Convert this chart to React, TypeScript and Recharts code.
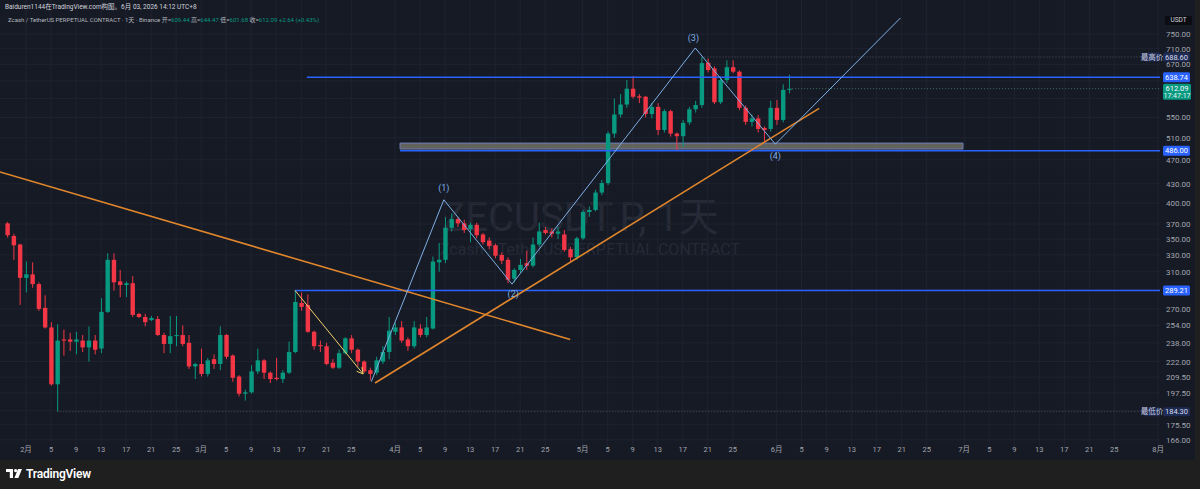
import React from 'react';
import {
  ComposedChart,
  Bar,
  XAxis,
  YAxis,
  CartesianGrid,
  ReferenceLine,
  ReferenceArea,
  ReferenceDot,
} from 'recharts';

// day index counted from Feb 1 (first candle is Jan 29)
const FIRST_DAY = -3;

const opens = [
  371, 354, 343, 303,
  307, 296, 271, 252, 204, 241, 241, 239, 240, 234,
  240, 233, 267, 324, 299, 295, 297, 265, 262, 259,
  260, 245, 237, 244, 245, 238, 218, 220, 212, 224,
  220, 245, 227, 210, 197, 198, 214, 223, 213, 209,
  208, 213, 230, 276, 274, 248, 236, 235, 221, 217,
  229, 242, 232, 222, 215, 213, 222, 230, 248, 252,
  241, 235, 251, 245, 251, 321, 324, 365, 377, 371,
  363, 369, 356, 348, 342, 330, 324, 302, 312, 320,
  317, 343, 362, 360, 357, 356, 337, 327, 351, 387,
  390, 416, 431, 518, 556, 577, 612, 595, 594, 557,
  572, 525, 563, 518, 513, 540, 567, 576, 674, 660,
  582, 632, 663, 652, 570, 541, 548, 529, 527, 570,
  545, 609.44,
];

const highs = [
  373, 357, 344, 322,
  321, 298, 284, 257, 255, 250, 247, 248, 245, 253,
  245, 281, 332, 332, 312, 299, 305, 266, 265, 263,
  263, 247, 263, 263, 254, 245, 221, 233, 225, 228,
  253, 246, 228, 211, 200, 219, 233, 224, 214, 225,
  215, 239, 289.21, 287, 285, 249, 240, 238, 224, 232,
  243, 245, 233, 223, 217, 226, 235, 262, 256, 258,
  243, 258, 255, 262, 328, 345, 380, 385, 380, 376,
  372, 372, 358, 352, 344, 333, 327, 314, 325, 335,
  352, 372, 366, 364, 366, 362, 340, 353, 390, 395,
  420, 436, 522, 590, 600, 632, 641, 600, 596, 580,
  580, 567, 566, 520, 545, 572, 585, 688.6, 685, 665,
  640, 680, 680, 655, 575, 556, 555, 532, 585, 587,
  622, 644.47,
];

const lows = [
  352, 324, 274, 287,
  292, 268, 251, 203, 184.3, 227, 231, 228, 230, 222,
  228, 229, 266, 289, 282, 282, 262, 261, 253, 258,
  244, 229, 229, 235, 235, 216, 208, 210, 210, 216,
  215, 224, 206, 195, 192, 197, 212, 208, 205, 207,
  205, 212, 229, 268, 247, 232, 230, 219, 216, 216,
  228, 229, 218, 213, 207, 211, 220, 224, 245, 238,
  231, 233, 243, 243, 250, 310, 320, 360, 366, 358,
  346, 351, 343, 337, 326, 319, 297, 298, 309, 312,
  315, 340, 356, 352, 350, 334, 322, 324, 349, 380,
  388, 412, 428, 510, 550, 570, 590, 580, 550, 548,
  515, 520, 512, 486, 493, 535, 560, 570, 650, 578,
  578, 625, 648, 565, 535, 532, 520, 503, 522, 535,
  540, 601.68,
];

const closes = [
  355, 342, 303, 307,
  296, 270, 252, 204, 240, 240, 239, 241, 234, 240,
  232, 267, 324, 298, 295, 297, 264, 262, 257, 261,
  245, 237, 244, 245, 237, 218, 220, 212, 223, 220,
  245, 226, 209, 197, 198, 214, 223, 213, 208, 208,
  213, 230, 277, 272, 248, 235, 235, 220, 217, 229,
  242, 232, 222, 214, 212, 223, 230, 249, 252, 240,
  235, 252, 245, 252, 322, 324, 365, 377, 371, 362,
  369, 355, 346, 341, 329, 323, 301, 312, 318, 317,
  343, 360, 358, 357, 360, 336, 327, 351, 387, 390,
  416, 431, 518, 556, 577, 612, 594, 592, 557, 572,
  525, 563, 518, 513, 539, 567, 576, 673, 656, 582,
  632, 663, 652, 570, 541, 548, 527, 525, 570, 545,
  609.45, 612.09,
];

const xTickDays = [
  0, 4, 8, 12, 16, 20, 24,
  28, 32, 36, 40, 44, 48, 52,
  59, 63, 67, 71, 75, 79, 83,
  89, 93, 97, 101, 105, 109, 113,
  120, 124, 128, 132, 136, 140, 144,
  150, 154, 158, 162, 166, 170, 174,
  181,
];
const xTickLabels = [
  '2月', '5', '9', '13', '17', '21', '25',
  '3月', '5', '9', '13', '17', '21', '25',
  '4月', '5', '9', '13', '17', '21', '25',
  '5月', '5', '9', '13', '17', '21', '25',
  '6月', '5', '9', '13', '17', '21', '25',
  '7月', '5', '9', '13', '17', '21', '25',
  '8月',
];

const priceTicks = [166, 175.5, 197.5, 209.5, 222, 238, 254, 270, 310, 330, 350, 370, 400, 430, 470, 510, 550, 670, 710, 750];
const gridPrices = [166, 175.5, 185, 197.5, 209.5, 222, 238, 254, 270, 290, 310, 330, 350, 370, 400, 430, 470, 510, 550, 590, 630, 670, 710, 750];

const HIGH_PRICE = 688.6;
const LOW_PRICE = 184.3;
const LAST_PRICE = 612.09;
const levelPrices = [638.74, 486, 289.21];

// elliott wave drawing
const waveDays = [55.2, 66.8, 77.7, 107.0, 119.8, 139.8];
const wavePrices = [206, 405, 296, 712, 498, 796];
const waveLabelDays = [66.8, 77.9, 106.7, 119.8];
const waveLabelPrices = [423, 285, 739, 476];
const waveLabels = ['(1)', '(2)', '(3)', '(4)'];

const BG = '#161a25';
const GRID = '#1f2330';
const UP = '#089981';
const DOWN = '#f23645';
const BLUE = '#2962ff';
const WAVE = '#7fb0e6';
const ORANGE = '#e0862c';
const AXIS_TEXT = '#a3a6af';
const FONT = "Roboto, 'Noto Sans CJK SC', sans-serif";

const candles = opens.map((o, i) => ({ d: FIRST_DAY + i, o, h: highs[i], l: lows[i], c: closes[i] }));

const X_DOMAIN: [number, number] = [-4.16, 181.3];
const Y_DOMAIN: [number, number] = [162.2, 851];

const Candle = (props: any) => {
  const { x, y, width, height, payload } = props;
  const { o, h, l, c } = payload;
  const lh = Math.log(h);
  const ll = Math.log(l);
  const py = (p: number) => (lh === ll ? y : y + (height * (lh - Math.log(p))) / (lh - ll));
  const color = c >= o ? UP : DOWN;
  const cx = x + width / 2;
  const top = py(Math.max(o, c));
  const bot = py(Math.min(o, c));
  return (
    <g>
      <line x1={cx} x2={cx} y1={y} y2={y + height} stroke={color} strokeWidth={1} />
      <rect x={cx - 2.2} y={top} width={4.4} height={Math.max(1, bot - top)} fill={color} />
    </g>
  );
};

const Arrow = (p: any) => {
  const { x1, y1, x2, y2 } = p;
  const a = Math.atan2(y2 - y1, x2 - x1);
  const L = 7;
  const pts = [
    [x2 - L * Math.cos(a - 0.5), y2 - L * Math.sin(a - 0.5)],
    [x2, y2],
    [x2 - L * Math.cos(a + 0.5), y2 - L * Math.sin(a + 0.5)],
  ];
  return (
    <g>
      <line x1={x1} y1={y1} x2={x2} y2={y2} stroke="#f2d16b" strokeWidth={1} />
      <polyline points={pts.map((q) => q.join(',')).join(' ')} fill="none" stroke="#f2d16b" strokeWidth={1} />
    </g>
  );
};

const Box = ({ x, y, w, h, bg, text, color = '#fff' }: any) => (
  <g>
    <rect x={x} y={y - h / 2} width={w} height={h} rx={1.5} fill={bg} />
    <text x={x + w / 2} y={y + 2.7} textAnchor="middle" fontSize={7.5} fill={color} fontFamily={FONT}>
      {text}
    </text>
  </g>
);

const PriceTick = (props: any) => {
  const { x, y, payload } = props;
  const v = payload.value as number;
  const lx = x + 3;
  if (v === HIGH_PRICE || v === LOW_PRICE) {
    return (
      <g>
        <Box x={lx - 19} y={y} w={16} h={9} bg="#1e2b52" text={v === HIGH_PRICE ? '最高价' : '最低价'} color="#c7cbe0" />
        <Box x={lx} y={y} w={27} h={9} bg="#1e2b52" text={v.toFixed(2)} color="#d8dcf0" />
      </g>
    );
  }
  if (v === LAST_PRICE) {
    return (
      <g>
        <rect x={lx} y={y - 5} width={28} height={16} rx={1.5} fill={UP} />
        <text x={lx + 14} y={y + 2.5} textAnchor="middle" fontSize={7.5} fill="#fff" fontFamily={FONT}>
          {v.toFixed(2)}
        </text>
        <text x={lx + 14} y={y + 9.5} textAnchor="middle" fontSize={7} fill="#e6f5f1" fontFamily={FONT}>
          17:47:17
        </text>
      </g>
    );
  }
  if (levelPrices.includes(v)) {
    return <Box x={lx} y={y} w={27} h={10} bg={BLUE} text={v.toFixed(2)} />;
  }
  return (
    <text x={lx + 3} y={y + 3} fontSize={8} fill={AXIS_TEXT} fontFamily={FONT}>
      {v.toFixed(2)}
    </text>
  );
};

const DayTick = (props: any) => {
  const { x, y, payload } = props;
  const i = xTickDays.indexOf(payload.value);
  return (
    <text x={x} y={y + 6} textAnchor="middle" fontSize={7.5} fill={AXIS_TEXT} fontFamily={FONT}>
      {i >= 0 ? xTickLabels[i] : ''}
    </text>
  );
};

const seg = (d1: number, p1: number, d2: number, p2: number) => [
  { x: d1, y: p1 },
  { x: d2, y: p2 },
];

export default function App() {
  const axisValues = [...priceTicks, LOW_PRICE, levelPrices[2], levelPrices[1], LAST_PRICE, levelPrices[0], HIGH_PRICE].sort(
    (a, b) => a - b
  );
  return (
    <div style={{ position: 'relative', width: 1200, height: 489, background: '#1f1f1f', overflow: 'hidden', fontFamily: FONT }}>
      <style>{'body{margin:0;background:#1f1f1f}'}</style>
      <div style={{ position: 'absolute', left: 0, top: 0, width: 1195, height: 460, background: BG }} />
      <div
        style={{
          position: 'absolute',
          left: 0,
          width: 1160,
          top: 196,
          textAlign: 'center',
          color: '#252a36',
          fontSize: 40,
          lineHeight: '44px',
          fontFamily: FONT,
        }}
      >
        ZECUSDT.P, 1天
      </div>
      <div
        style={{
          position: 'absolute',
          left: 10,
          width: 1160,
          top: 240,
          textAlign: 'center',
          color: '#252a36',
          fontSize: 16,
          fontFamily: FONT,
        }}
      >
        Zcash / TetherUS PERPETUAL CONTRACT
      </div>
      <div style={{ position: 'absolute', left: 0, top: 0 }}>
        <ComposedChart width={1195} height={460} data={candles} margin={{ top: 0, right: 0, bottom: 0, left: 0 }}>
          <CartesianGrid stroke={GRID} horizontalValues={gridPrices} verticalValues={xTickDays} />
          <XAxis
            dataKey="d"
            type="number"
            domain={X_DOMAIN}
            allowDataOverflow
            ticks={xTickDays}
            interval={0}
            height={14}
            tickSize={0}
            tickMargin={0}
            axisLine={false}
            tickLine={false}
            tick={<DayTick />}
          />
          <YAxis
            orientation="right"
            scale="log"
            domain={Y_DOMAIN}
            allowDataOverflow
            ticks={axisValues}
            interval={0}
            width={35}
            tickSize={0}
            tickMargin={0}
            axisLine={false}
            tickLine={false}
            tick={<PriceTick />}
          />
          <ReferenceArea
            x1={59.8}
            x2={149.8}
            y1={489}
            y2={500}
            fill="#7d7c70"
            fillOpacity={0.75}
            stroke="#6f7fb8"
            strokeWidth={1}
            ifOverflow="hidden"
          />
          <ReferenceLine segment={seg(59.8, levelPrices[1], 181.3, levelPrices[1])} stroke={BLUE} strokeWidth={1.5} ifOverflow="hidden" />
          <ReferenceLine segment={seg(44.9, levelPrices[0], 181.3, levelPrices[0])} stroke={BLUE} strokeWidth={1.5} ifOverflow="hidden" />
          <ReferenceLine segment={seg(43.0, levelPrices[2], 181.3, levelPrices[2])} stroke={BLUE} strokeWidth={1.5} ifOverflow="hidden" />
          <ReferenceLine segment={seg(108, HIGH_PRICE, 181.3, HIGH_PRICE)} stroke="#4c505c" strokeDasharray="1 2" ifOverflow="hidden" />
          <ReferenceLine segment={seg(122, LAST_PRICE, 181.3, LAST_PRICE)} stroke="#3f6e66" strokeDasharray="1 2" ifOverflow="hidden" />
          <ReferenceLine segment={seg(5, LOW_PRICE, 181.3, LOW_PRICE)} stroke="#4c505c" strokeDasharray="1 2" ifOverflow="hidden" />
          <Bar dataKey={(e: any) => [e.l, e.h]} barSize={5} shape={<Candle />} isAnimationActive={false} />
          <ReferenceLine segment={seg(-4.16, 449, 87.0, 241)} stroke={ORANGE} strokeWidth={1.6} ifOverflow="hidden" />
          <ReferenceLine segment={seg(55.8, 205, 126.8, 569)} stroke={ORANGE} strokeWidth={1.6} ifOverflow="hidden" />
          <ReferenceLine segment={seg(43.0, 289.2, 53.9, 212)} ifOverflow="hidden" shape={Arrow} />
          {waveDays.slice(1).map((d, i) => (
            <ReferenceLine
              key={`w${i}`}
              segment={seg(waveDays[i], wavePrices[i], d, wavePrices[i + 1])}
              stroke={WAVE}
              strokeWidth={1}
              ifOverflow="hidden"
            />
          ))}
          {waveLabels.map((t, i) => (
            <ReferenceDot
              key={t}
              x={waveLabelDays[i]}
              y={waveLabelPrices[i]}
              r={0}
              shape={(p: any) => (
                <text x={p.cx} y={p.cy + 3} textAnchor="middle" fontSize={9} fill={WAVE} fontFamily={FONT}>
                  {t}
                </text>
              )}
            />
          ))}
        </ComposedChart>
      </div>
      <div style={{ position: 'absolute', left: 5, top: 1, fontSize: 6.5, color: '#d1d4dc', whiteSpace: 'nowrap' }}>
        Baiduren1144在TradingView.com构图。6月 03, 2026 14:12 UTC+8
      </div>
      <div style={{ position: 'absolute', left: 8, top: 15, fontSize: 6, color: '#b2b5be', whiteSpace: 'nowrap' }}>
        Zcash / TetherUS PERPETUAL CONTRACT · 1天 · Binance{'  '}
        <span>开=</span><span style={{ color: UP }}>609.44</span>{' '}
        <span>高=</span><span style={{ color: UP }}>644.47</span>{' '}
        <span>低=</span><span style={{ color: UP }}>601.68</span>{' '}
        <span>收=</span><span style={{ color: UP }}>612.09</span>{' '}
        <span style={{ color: UP }}>+2.64 (+0.43%)</span>
      </div>
      <div
        style={{
          position: 'absolute',
          left: 1165,
          top: 16,
          width: 27,
          height: 9,
          background: '#0b0d13',
          color: '#d1d4dc',
          fontSize: 6.5,
          lineHeight: '9px',
          textAlign: 'center',
        }}
      >
        USDT
      </div>
      <div style={{ position: 'absolute', left: 6, top: 467, display: 'flex', alignItems: 'center', gap: 4 }}>
        <svg width={16} height={10} viewBox="0 0 16 10">
          <path d="M0 0 H7 V9 H3.8 V3 H0 Z" fill="#fff" />
          <circle cx={9.6} cy={1.6} r={1.6} fill="#fff" />
          <path d="M12 0 H16 L12.3 9 H8.4 Z" fill="#fff" />
        </svg>
        <span style={{ color: '#fff', fontSize: 12, fontWeight: 600, letterSpacing: -0.2 }}>TradingView</span>
      </div>
    </div>
  );
}
